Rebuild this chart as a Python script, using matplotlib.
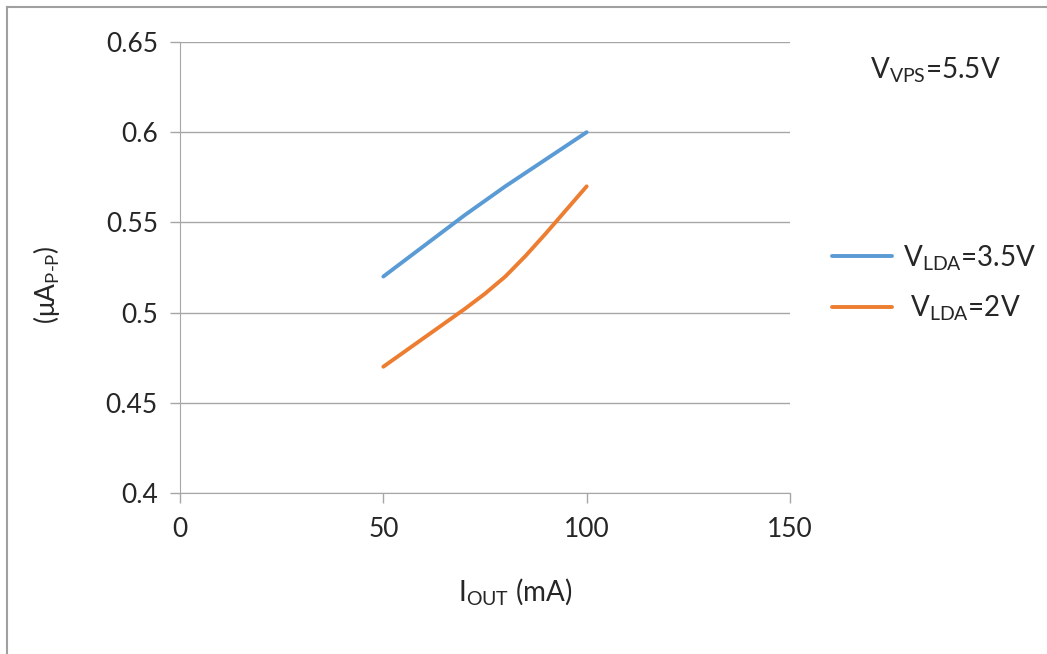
import numpy as np
import matplotlib
matplotlib.use("Agg")
import matplotlib.pyplot as plt
from matplotlib.lines import Line2D

plt.rcParams['font.family'] = ['Lato', 'DejaVu Sans']
plt.rcParams['mathtext.fontset'] = 'custom'
plt.rcParams['mathtext.rm'] = 'Lato'

# values
i_out = [50, 55, 60, 65, 70, 75, 80, 85, 90, 95, 100]
v35 = [0.520, 0.5285, 0.537, 0.5455, 0.554, 0.562, 0.570, 0.5775, 0.585, 0.5925, 0.600]
v20 = [0.470, 0.478, 0.486, 0.494, 0.502, 0.5105, 0.520, 0.5315, 0.544, 0.557, 0.570]
labels = ["V$_{\\mathregular{LDA}}$=3.5V", " V$_{\\mathregular{LDA}}$=2V"]
colors = ["#5b9bd5", "#ed7d31"]
xticks = [0, 50, 100, 150]
yticks = [0.4, 0.45, 0.5, 0.55, 0.6, 0.65]
ytick_labels = ["0.4", "0.45", "0.5", "0.55", "0.6", "0.65"]

W, H = 1047, 654
fig = plt.figure(figsize=(W / 100, H / 100), dpi=100)
ax = fig.add_axes([180/W, 1 - 493/H, 610/W, 451/H])

txt_c = "#262626"
grid_c = "#a6a6a6"
for series, c, lab in zip([v35, v20], colors, labels):
    ax.plot(i_out, series, color=c, lw=2.8, label=lab,
            solid_capstyle="round", solid_joinstyle="round")

ax.set_xlim(0, 150)
ax.set_ylim(0.4, 0.65)
ax.set_xticks(xticks)
ax.set_yticks(yticks)
ax.set_yticklabels(ytick_labels)
ax.yaxis.grid(True, color=grid_c, lw=1)
ax.set_axisbelow(True)
for s in ["top", "right"]:
    ax.spines[s].set_visible(False)
for s in ["left", "bottom"]:
    ax.spines[s].set_color(grid_c)
ax.tick_params(axis="both", colors=grid_c, length=7, width=1,
               labelcolor=txt_c, labelsize=19)
ax.tick_params(axis="x", pad=10)
ax.tick_params(axis="y", pad=9)

ax.set_xlabel("I$_{\\mathregular{OUT}}$ (mA)", fontsize=20, color=txt_c)
ax.set_ylabel("(\u03bcA$_{\\mathregular{P\u2010P}}$)", fontsize=19, color=txt_c)
ax.xaxis.set_label_coords((515 - 180) / 610, (493 - 592) / 451)
ax.xaxis.label.set_va("center")
ax.yaxis.set_label_coords((46 - 180) / 610, (493 - 285) / 451)
ax.yaxis.label.set_va("center")

fig.text(870/W, 1 - 70/H, "V$_{\\mathregular{VPS}}$=5.5V", fontsize=20,
         color=txt_c, va="center")

leg = ax.legend(loc="center left", bbox_to_anchor=(832/W, 1 - 283/H),
                bbox_transform=fig.transFigure, frameon=False, fontsize=20,
                handlelength=2.15, handletextpad=0.4, labelspacing=0.75,
                borderpad=0, borderaxespad=0)
for t in leg.get_texts():
    t.set_color(txt_c)

# cropped chart-area border (top and left only)
fig.add_artist(Line2D([7/W, 1], [1 - 7/H, 1 - 7/H], color="#a0a0a0", lw=1.5))
fig.add_artist(Line2D([7/W, 7/W], [0, 1 - 7/H], color="#a0a0a0", lw=1.5))

fig.savefig("out.png", dpi=100)
